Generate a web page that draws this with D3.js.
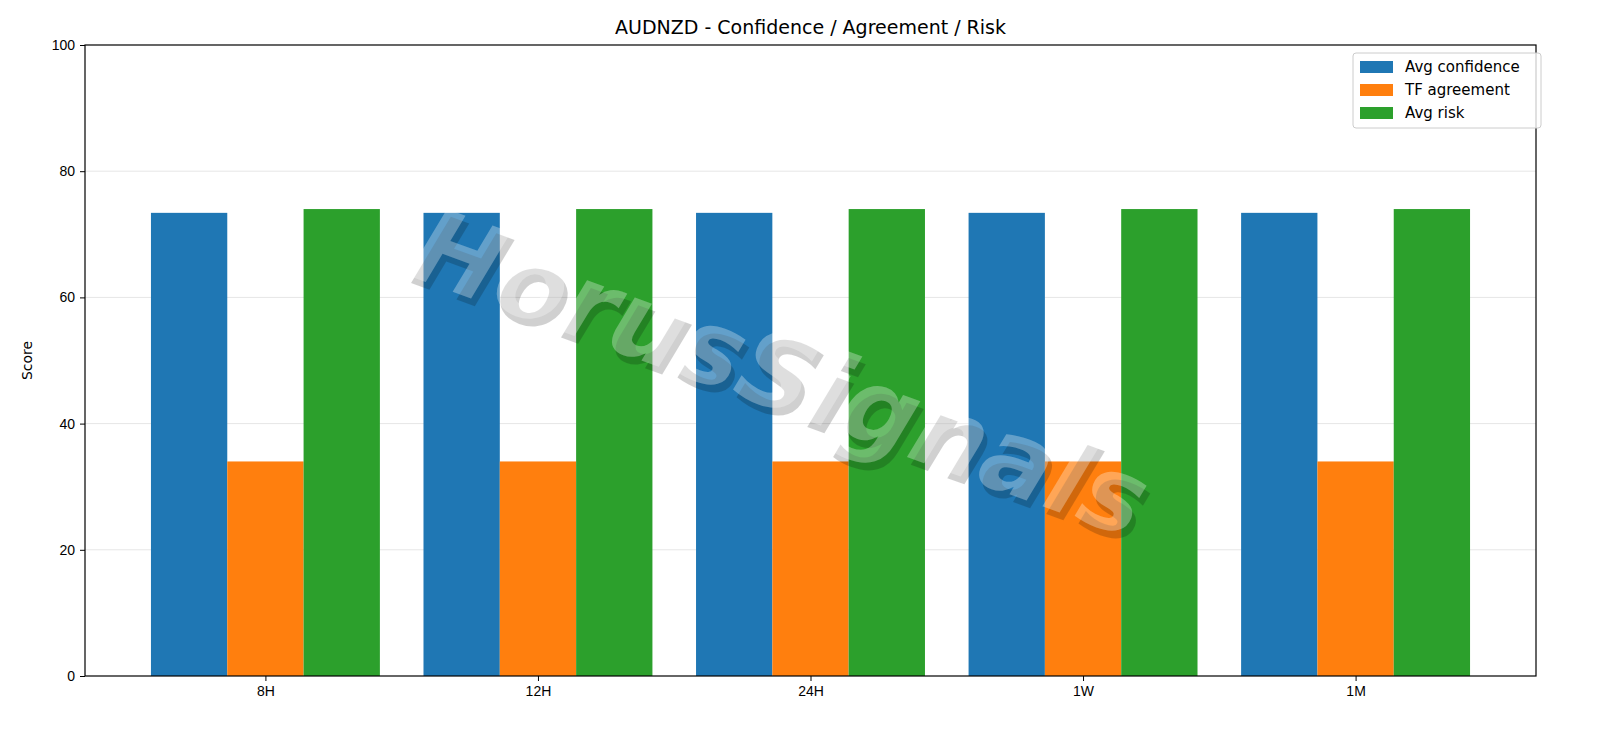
<!DOCTYPE html>
<html><head><meta charset="utf-8">
<script src="https://cdn.jsdelivr.net/npm/d3@7"></script>
<style>html,body{margin:0;padding:0;overflow:hidden;background:#fff}svg{display:block;font-family:"DejaVu Sans",sans-serif}</style>
</head><body><svg id="c" width="1600" height="738"></svg>
<script>
const categories=["8H","12H","24H","1W","1M"];
const avgConfidence=[73.4,73.4,73.4,73.4,73.4];
const tfAgreement=[34,34,34,34,34];
const avgRisk=[74,74,74,74,74];
const seriesNames=["Avg confidence","TF agreement","Avg risk"];
const colors=["#1f77b4","#ff7f0e","#2ca02c"];
const yTicks=[0,20,40,60,80,100];
const series=[avgConfidence,tfAgreement,avgRisk];
const svg=d3.select("#c");
const L=85,R=1536,T=45,B=676;
const x=d3.scaleLinear().domain([-0.662,4.662]).range([L,R]);
const y=d3.scaleLinear().domain([0,100]).range([B,T]);
const bw=0.28;
svg.append("g").selectAll("line").data(yTicks.slice(1,-1)).join("line")
 .attr("x1",L).attr("x2",R).attr("y1",d=>y(d)).attr("y2",d=>y(d)).attr("stroke","#e6e6e6");
series.forEach((s,si)=>{
 svg.append("g").selectAll("rect").data(s).join("rect")
  .attr("x",(d,i)=>x(i+(si-1)*bw-bw/2)).attr("width",x(bw)-x(0))
  .attr("y",d=>y(d)).attr("height",d=>B-y(d)).attr("fill",colors[si]);
});
// watermark
const wm=svg.append("g").attr("transform","translate(778,380) rotate(20)");
wm.append("text").attr("x",6).attr("y",6).attr("text-anchor","middle").attr("dominant-baseline","middle")
 .attr("font-size",104).attr("font-style","italic").attr("font-weight","bold").attr("fill","#000").attr("opacity",0.18).text("HorusSignals");
wm.append("text").attr("text-anchor","middle").attr("dominant-baseline","middle")
 .attr("font-size",104).attr("font-style","italic").attr("font-weight","bold").attr("fill","#fff").attr("opacity",0.3).text("HorusSignals");
svg.append("rect").attr("x",L).attr("y",T).attr("width",R-L).attr("height",B-T).attr("fill","none").attr("stroke","#000").attr("stroke-width",1.2);
const ya=svg.append("g").attr("transform",`translate(${L},0)`).call(d3.axisLeft(y).tickValues(yTicks).tickSize(5).tickPadding(5));
const xa=svg.append("g").attr("transform",`translate(0,${B})`).call(d3.axisBottom(x).tickValues(d3.range(5)).tickFormat(i=>categories[i]).tickSize(5).tickPadding(5));
[ya,xa].forEach(a=>{a.select(".domain").remove();a.selectAll("text").attr("font-size",14).attr("fill","#000");});
svg.append("text").attr("x",(L+R)/2).attr("y",34).attr("text-anchor","middle").attr("font-size",19).text("AUDNZD - Confidence / Agreement / Risk");
svg.append("text").attr("transform",`translate(32,${(T+B)/2}) rotate(-90)`).attr("text-anchor","middle").attr("font-size",14).text("Score");
const lg=svg.append("g").attr("transform","translate(1353,53)");
lg.append("rect").attr("width",188).attr("height",75).attr("rx",3).attr("fill","#fff").attr("fill-opacity",0.8).attr("stroke","#ccc");
seriesNames.forEach((n,i)=>{
 lg.append("rect").attr("x",7).attr("y",8+i*23).attr("width",33).attr("height",12).attr("fill",colors[i]);
 lg.append("text").attr("x",52).attr("y",19+i*23).attr("font-size",15).text(n);
});
</script></body></html>
